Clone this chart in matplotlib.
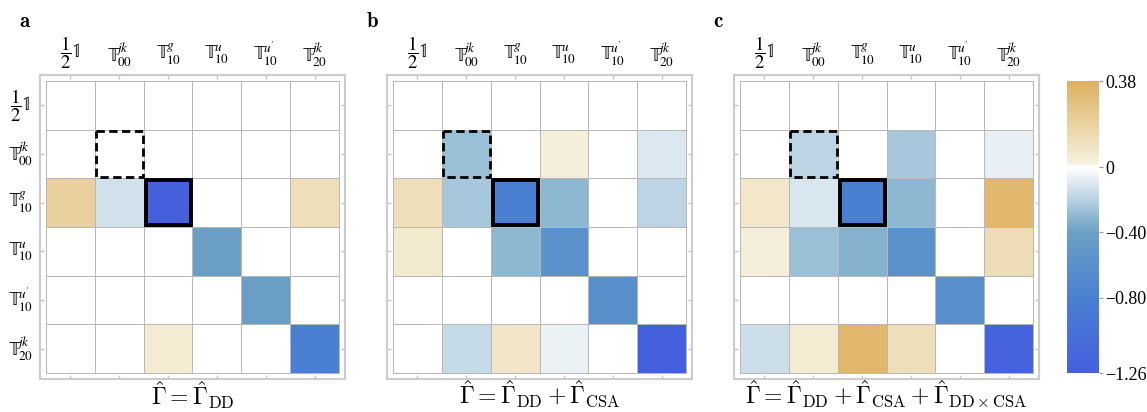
import numpy as np
import matplotlib.pyplot as plt
from matplotlib.colors import LinearSegmentedColormap, FuncNorm
from matplotlib.patches import Rectangle
from matplotlib.cm import ScalarMappable

plt.rcParams['mathtext.fontset'] = 'cm'

# operator basis labels (rows and columns)
basis = [r'$\dfrac{1}{2}\mathrm{𝟙}$', r'$\mathrm{𝕋}^{jk}_{00}$', r'$\mathrm{𝕋}^{g}_{10}$',
         r'$\mathrm{𝕋}^{u}_{10}$', r"$\mathrm{𝕋}^{u'}_{10}$", r'$\mathrm{𝕋}^{jk}_{20}$']

# relaxation matrices
gamma_dd = [
    [0, 0, 0, 0, 0, 0],
    [0, 0, 0, 0, 0, 0],
    [0.20, -0.13, -1.26, 0, 0, 0.12],
    [0, 0, 0, -0.42, 0, 0],
    [0, 0, 0, 0, -0.42, 0],
    [0, 0, 0.05, 0, 0, -0.82],
]
gamma_dd_csa = [
    [0, 0, 0, 0, 0, 0],
    [0, -0.27, 0, 0.03, 0, -0.10],
    [0.12, -0.24, -0.82, -0.30, 0, -0.19],
    [0.06, 0, -0.30, -0.58, 0, 0],
    [0, 0, 0, 0, -0.62, 0],
    [0, -0.16, 0.08, -0.06, 0, -1.26],
]
gamma_full = [
    [0, 0, 0, 0, 0, 0],
    [0, -0.19, 0, -0.24, 0, -0.07],
    [0.07, -0.11, -0.82, -0.30, 0, 0.34],
    [0.03, -0.27, -0.33, -0.58, 0, 0.13],
    [0, 0, 0, 0, -0.62, 0],
    [-0.15, 0.05, 0.34, 0.12, 0, -1.22],
]

titles = [r'$\hat{\Gamma} = \hat{\Gamma}_{\rm DD}$',
          r'$\hat{\Gamma} = \hat{\Gamma}_{\rm DD} + \hat{\Gamma}_{\rm CSA}$',
          r'$\hat{\Gamma} = \hat{\Gamma}_{\rm DD} + \hat{\Gamma}_{\rm CSA} + \hat{\Gamma}_{\rm DD\times CSA}$']
letters = ['a', 'b', 'c']

cbar_ticks = [0.38, 0, -0.40, -0.80, -1.26]
cbar_labels = ['0.38', '0', '\u22120.40', '\u22120.80', '\u22121.26']

vmin, vmax = -1.26, 0.38
split = 0.705  # share of the bar below zero


def fwd(v):
    v = np.asarray(v, dtype=float)
    return np.where(v < 0, (v - vmin) / -vmin * split, split + v / vmax * (1 - split))


def inv(p):
    p = np.asarray(p, dtype=float)
    return np.where(p < split, vmin + p / split * -vmin, (p - split) / (1 - split) * vmax)


norm = FuncNorm((fwd, inv), vmin=vmin, vmax=vmax)

stops = [(-1.26, '#4560dd'), (-1.0, '#4872d8'), (-0.8, '#4a80d0'), (-0.6, '#5a90cc'),
         (-0.4, '#6ca0c4'), (-0.3, '#8db8d2'), (-0.2, '#b8d2e2'), (-0.1, '#dce8f0'),
         (-0.004, '#ffffff'), (0.004, '#ffffff'), (0.015, '#f6f1df'), (0.38, '#ddb05e')]
cmap = LinearSegmentedColormap.from_list(
    'gamma', [(float(fwd(v)), c) for v, c in stops], N=2048)

fig = plt.figure(figsize=(11.47, 4.12), dpi=100)
lefts = [40, 387, 734]
pad = 0.12

for k, (mat, title, letter) in enumerate(zip([gamma_dd, gamma_dd_csa, gamma_full], titles, letters)):
    ax = fig.add_axes([lefts[k] / 1147, 1 - 379 / 412, 305 / 1147, 304 / 412])
    data = np.array(mat)
    ax.pcolormesh(np.arange(7) - 0.5, np.arange(7) - 0.5, data, cmap=cmap, norm=norm,
                  edgecolors='#b8b8b8', linewidth=0.6)
    ax.set_xlim(-0.5 - pad, 5.5 + pad)
    ax.set_ylim(5.5 + pad, -0.5 - pad)
    ax.set_xticks(range(6))
    ax.set_yticks(range(6))
    ax.tick_params(direction='in', length=3, color='#c4c4c4', width=1,
                   top=True, right=True, labelbottom=False, labelleft=False)
    for s in ax.spines.values():
        s.set_color('#cccccc')
        s.set_linewidth(1.5)

    # highlighted diagonal elements
    ax.add_patch(Rectangle((0.5 + 0.02, 0.5 + 0.02), 0.96, 0.96, fill=False,
                           edgecolor='black', linewidth=2.0, linestyle=(0, (3, 1.6)), zorder=5))
    ax.add_patch(Rectangle((1.5 + 0.04, 1.5 + 0.04), 0.92, 0.92, fill=False,
                           edgecolor='black', linewidth=2.8, zorder=5))

    for j, lab in enumerate(basis):
        ax.text(j, 1.068 if j else 1.075, lab, transform=ax.get_xaxis_transform(),
                ha='center', va='center', fontsize=13.5, math_fontfamily='stix')
        if k == 0:
            ax.text(-0.065, j, lab, transform=ax.get_yaxis_transform(), ha='center', va='center',
                    fontsize=13.5, math_fontfamily='stix')

    ax.text(0.5, -0.052, title, transform=ax.transAxes, ha='center', va='center', fontsize=17)
    fig.text((lefts[k] - 21) / 1147, 1 - 21 / 412, r'$\mathbf{' + letter + '}$',
             ha='left', va='center', fontsize=15)

cax = fig.add_axes([1067 / 1147, 1 - 373 / 412, 32 / 1147, 292 / 412])
cb = fig.colorbar(ScalarMappable(norm=norm, cmap=cmap), cax=cax)
cb.set_ticks(cbar_ticks)
cb.set_ticklabels(cbar_labels)
cb.outline.set_visible(False)
cax.tick_params(length=3, color='#999999', width=0.8, pad=1.5, labelsize=13)
for t in cax.get_yticklabels():
    t.set_fontfamily('Liberation Serif')

fig.savefig('out.png', dpi=100)
